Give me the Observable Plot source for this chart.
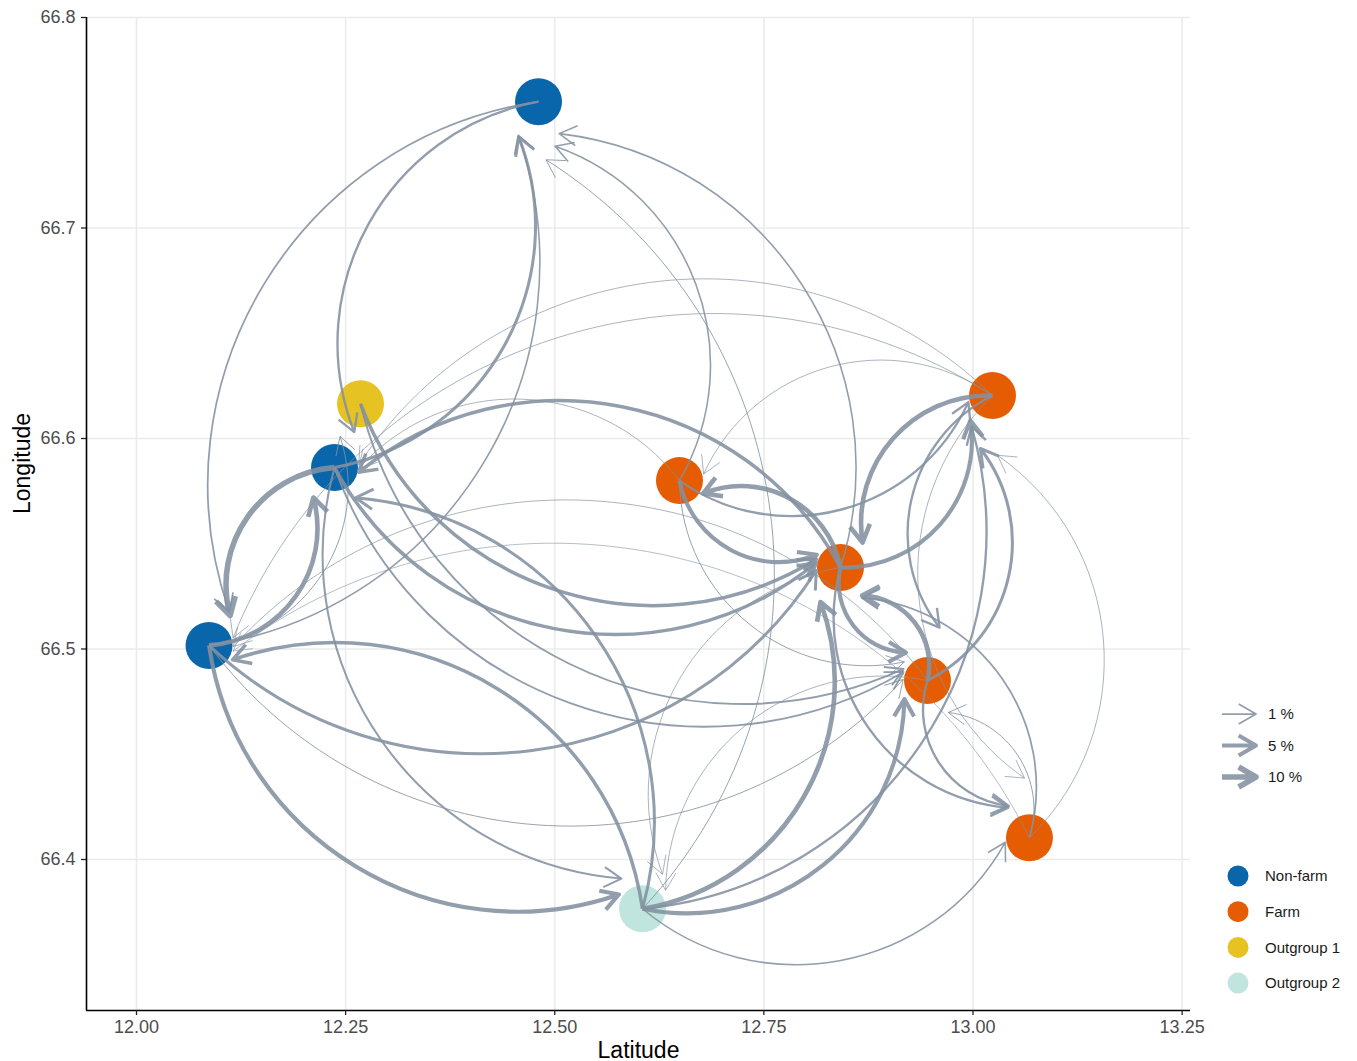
<!DOCTYPE html>
<html><head><meta charset="utf-8">
<script src="https://cdn.jsdelivr.net/npm/d3@7"></script>
<script src="https://cdn.jsdelivr.net/npm/@observablehq/plot@0.6"></script>
<style>
body{margin:0;background:#fff;font-family:"Liberation Sans",Arial,sans-serif;}
</style></head><body><div id="wrap"></div>
<script>
// ---- data ----
const siteIds   = ["NF1","OG1","NF2","NF3","FA","FB","FC","FD","FE","OG2"];
const siteGroup = ["Non-farm","Outgroup 1","Non-farm","Non-farm","Farm","Farm","Farm","Farm","Farm","Outgroup 2"];
const siteLat   = [12.4806,12.2678,12.2367,12.0867,12.6491,12.8416,13.0233,12.9456,13.0675,12.6049];
const siteLon   = [66.7600,66.6165,66.5862,66.5017,66.5800,66.5387,66.6204,66.4850,66.4103,66.3766];

const edgeFrom = ["NF1","NF1","NF2","NF3","FA","FB","OG2","NF2","NF3","NF3","OG2","NF2","OG2","NF3","NF3","NF2","OG1","FB","FD","OG2","OG2","OG2","OG2","FC","FC","FC","FC","FE","FB","OG1","NF2","FA","FB","FA","FB","FB","FD","FD","FC","FD","FB","FE","FE","FC","FA","FE","FD","FA","NF3"];
const edgeTo   = ["NF3","NF2","NF1","NF1","NF1","NF1","NF1","NF3","NF2","OG2","NF3","OG2","NF2","FB","FD","FD","FD","OG2","OG2","FB","FD","FC","FE","FB","FA","NF2","NF3","FC","NF2","FB","FB","FB","FA","FC","FC","FD","FB","FC","FD","FE","FE","FB","FD","FE","FD","NF3","NF3","NF2","OG1"];
const edgePct  = [1.0,1.8,3.0,0.8,0.8,0.8,0.3,10,7,5.5,4,1.4,3,3,0.3,1.2,1.2,0.2,0.2,7,5.5,1.8,0.8,7,0.2,0.2,0.2,0.2,4,4,4,5.5,7,1.8,5.5,5.5,7,3,1.8,1.8,1.8,1,0.3,0.2,0.3,0.15,0.2,0.2,0.3];

const groupNames  = ["Non-farm","Farm","Outgroup 1","Outgroup 2"];
const groupColors = ["#0a66ab","#e65c02","#e6c223","#bfe5de"];
const xTicks = [12.00,12.25,12.50,12.75,13.00,13.25];
const yTicks = [66.4,66.5,66.6,66.7,66.8];
const legendPct = [1,5,10];

const xDomain = [11.94023, 13.26001];
const yDomain = [66.32827, 66.8];

// ---- derived tables ----
const sites = siteIds.map((id,i)=>({id, group: siteGroup[i], lat: siteLat[i], lon: siteLon[i]}));
const byId = new Map(sites.map(s=>[s.id,s]));
const widthOf = p => 1.75*Math.sqrt(p);
const CAP = 0.029; // end shortening (data units)
const links = edgeFrom.map((f,i)=>{
  const a = byId.get(f), b = byId.get(edgeTo[i]);
  const dx = b.lat-a.lat, dy = b.lon-a.lon, L = Math.hypot(dx,dy);
  return {x1:a.lat, y1:a.lon, x2:b.lat-CAP*dx/L, y2:b.lon-CAP*dy/L, pct: edgePct[i], w: widthOf(edgePct[i])};
}).sort((a,b)=>a.pct-b.pct);

// ---- curved arrow (geom_curve-like) ----
const KS = 0.47, TH = 2*Math.atan(KS), HEAD = 20, HA = Math.PI/6;
function drawArrow(ctx, x1,y1,x2,y2){
  const cx=x2-x1, cy=y2-y1, L=Math.hypot(cx,cy); if(!L) return;
  const ux=cx/L, uy=cy/L, nx=-uy, ny=ux;
  const r=(L/2)/Math.sin(TH), hl=(4/3)*Math.tan(TH/2)*r;
  const c=Math.cos(TH), s=Math.sin(TH);
  const t1x=c*ux+s*nx, t1y=c*uy+s*ny, t2x=c*ux-s*nx, t2y=c*uy-s*ny;
  ctx.moveTo(x1,y1);
  ctx.bezierCurveTo(x1+hl*t1x,y1+hl*t1y,x2-hl*t2x,y2-hl*t2y,x2,y2);
  arrowHead(ctx,x2,y2,t2x,t2y);
}
function arrowHead(ctx,x,y,tx,ty){
  const bx=-tx, by=-ty, ca=Math.cos(HA), sa=Math.sin(HA);
  ctx.moveTo(x+HEAD*(bx*ca-by*sa), y+HEAD*(bx*sa+by*ca));
  ctx.lineTo(x,y);
  ctx.lineTo(x+HEAD*(bx*ca+by*sa), y+HEAD*(-bx*sa+by*ca));
}
function arcArrow(ctx){
  let p=[];
  return {
    lineStart(){p=[];}, point(x,y){p.push([+x,+y]);},
    lineEnd(){ if(p.length>1) drawArrow(ctx,p[0][0],p[0][1],p[p.length-1][0],p[p.length-1][1]); },
    areaStart(){}, areaEnd(){}
  };
}

const EDGE = "#8391a0";
const plot = Plot.plot({
  width: 1357, height: 1061,
  marginLeft: 86, marginRight: 167, marginTop: 17, marginBottom: 51,
  x: {domain: xDomain},
  y: {domain: yDomain},
  color: {domain: groupNames, range: groupColors},
  style: {fontFamily: "Liberation Sans, Arial, sans-serif", background: "white", overflow: "visible"},
  marks: [
    Plot.gridX(xTicks, {stroke: "#ebebeb", strokeOpacity: 1, strokeWidth: 1.6}),
    Plot.gridY(yTicks, {stroke: "#ebebeb", strokeOpacity: 1, strokeWidth: 1.6}),
    Plot.ruleX([xDomain[0]], {y1: yDomain[0], y2: yDomain[1], stroke: "black", strokeWidth: 1.6}),
    Plot.ruleY([yDomain[0]], {x1: xDomain[0], x2: xDomain[1], stroke: "black", strokeWidth: 1.6}),
    Plot.axisX(xTicks, {tickFormat: d3.format(".2f"), tickSize: 5, tickPadding: 5, fontSize: 18, color: "#4d4d4d", stroke: "#222", strokeWidth: 1.3, label: null}),
    Plot.axisY(yTicks, {tickFormat: d3.format(".1f"), tickSize: 5, tickPadding: 6, fontSize: 18, color: "#4d4d4d", stroke: "#222", strokeWidth: 1.3, label: null}),
    Plot.dot(sites, {x: "lat", y: "lon", r: 23.5, fill: "group", stroke: null}),
    Plot.link(links, {x1: "x1", y1: "y1", x2: "x2", y2: "y2", curve: arcArrow, stroke: EDGE, strokeOpacity: 0.88, strokeWidth: "w", strokeLinejoin: "round", strokeLinecap: "butt"}),
    Plot.text(["Latitude"], {frameAnchor: "bottom", dy: 47, fontSize: 23, lineAnchor: "bottom", fill: "black"}),
    Plot.text(["Longitude"], {frameAnchor: "left", dx: -57, rotate: -90, fontSize: 23, lineAnchor: "bottom", fill: "black"})
  ]
});
document.getElementById("wrap").appendChild(plot);

// ---- legend (right side) ----
const svg = d3.select(plot);
const lg = svg.append("g").attr("font-family","Liberation Sans, Arial, sans-serif").attr("font-size",15).attr("text-anchor","start");
legendPct.forEach((p,i)=>{
  const y = 714 + i*31.5, x1 = 1222, x2 = 1256;
  const path = d3.path();
  path.moveTo(x1,y); path.lineTo(x2,y); arrowHead(path,x2,y,1,0);
  lg.append("path").attr("d",path.toString()).attr("fill","none").attr("stroke",EDGE).attr("stroke-opacity",0.88)
    .attr("stroke-width",widthOf(p)).attr("stroke-linejoin","round");
  lg.append("text").attr("x",1268).attr("y",y).attr("dy","0.35em").attr("fill","#1a1a1a").text(`${p} %`);
});
groupNames.forEach((g,i)=>{
  const y = 876 + i*35.7;
  lg.append("circle").attr("cx",1238).attr("cy",y).attr("r",10.5).attr("fill",groupColors[i]);
  lg.append("text").attr("x",1265).attr("y",y).attr("dy","0.35em").attr("fill","#1a1a1a").text(g);
});
</script></body></html>
